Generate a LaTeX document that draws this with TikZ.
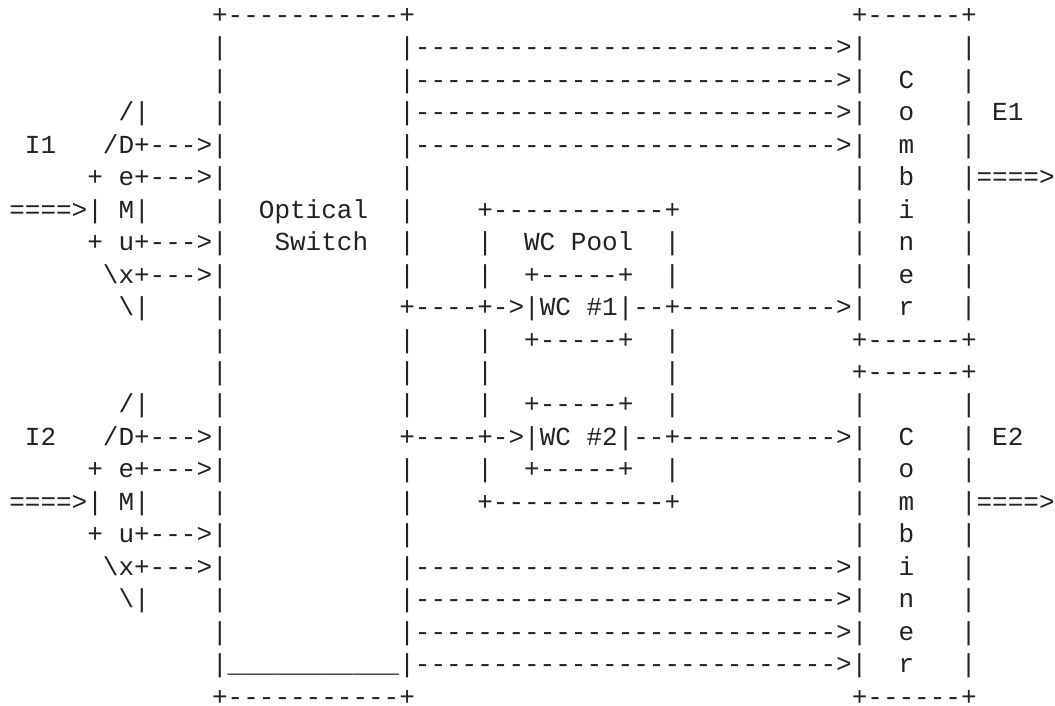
\documentclass[tikz,border=0pt]{standalone}
\usepackage{fontspec}
\setmonofont{Liberation Mono}
\definecolor{inkc}{HTML}{222222}
\tikzset{asciiline/.style={anchor=base west,inner sep=0pt,outer sep=0pt,text=inkc,font=\fontsize{26bp}{32bp}\selectfont\ttfamily}}
\newcommand{\rowline}[2]{\node[asciiline] (r#1) at (9.3,{-23.2-(#1-1)*32.48}) {#2};}
\begin{document}
\begin{tikzpicture}[x=1bp,y=1bp]
\useasboundingbox[fill=white] (0,0) rectangle (1055,-706);
\rowline{1}{~~~~~~~~~~~~~+-----------+~~~~~~~~~~~~~~~~~~~~~~~~~~~~+------+}
\rowline{2}{~~~~~~~~~~~~~|~~~~~~~~~~~|--------------------------->|~~~~~~|}
\rowline{3}{~~~~~~~~~~~~~|~~~~~~~~~~~|--------------------------->|~~C~~~|}
\rowline{4}{~~~~~~~/|~~~~|~~~~~~~~~~~|--------------------------->|~~o~~~|~E1}
\rowline{5}{~I1~~~/D+--->|~~~~~~~~~~~|--------------------------->|~~m~~~|}
\rowline{6}{~~~~~+~e+--->|~~~~~~~~~~~|~~~~~~~~~~~~~~~~~~~~~~~~~~~~|~~b~~~|====>}
\rowline{7}{====>|~M|~~~~|~~Optical~~|~~~~+-----------+~~~~~~~~~~~|~~i~~~|}
\rowline{8}{~~~~~+~u+--->|~~~Switch~~|~~~~|~~WC~Pool~~|~~~~~~~~~~~|~~n~~~|}
\rowline{9}{~~~~~~\textbackslash x+--->|~~~~~~~~~~~|~~~~|~~+-----+~~|~~~~~~~~~~~|~~e~~~|}
\rowline{10}{~~~~~~~\textbackslash|~~~~|~~~~~~~~~~~+----+->|WC~\#1|--+---------->|~~r~~~|}
\rowline{11}{~~~~~~~~~~~~~|~~~~~~~~~~~|~~~~|~~+-----+~~|~~~~~~~~~~~+------+}
\rowline{12}{~~~~~~~~~~~~~|~~~~~~~~~~~|~~~~|~~~~~~~~~~~|~~~~~~~~~~~+------+}
\rowline{13}{~~~~~~~/|~~~~|~~~~~~~~~~~|~~~~|~~+-----+~~|~~~~~~~~~~~|~~~~~~|}
\rowline{14}{~I2~~~/D+--->|~~~~~~~~~~~+----+->|WC~\#2|--+---------->|~~C~~~|~E2}
\rowline{15}{~~~~~+~e+--->|~~~~~~~~~~~|~~~~|~~+-----+~~|~~~~~~~~~~~|~~o~~~|}
\rowline{16}{====>|~M|~~~~|~~~~~~~~~~~|~~~~+-----------+~~~~~~~~~~~|~~m~~~|====>}
\rowline{17}{~~~~~+~u+--->|~~~~~~~~~~~|~~~~~~~~~~~~~~~~~~~~~~~~~~~~|~~b~~~|}
\rowline{18}{~~~~~~\textbackslash x+--->|~~~~~~~~~~~|--------------------------->|~~i~~~|}
\rowline{19}{~~~~~~~\textbackslash|~~~~|~~~~~~~~~~~|--------------------------->|~~n~~~|}
\rowline{20}{~~~~~~~~~~~~~|~~~~~~~~~~~|--------------------------->|~~e~~~|}
\rowline{21}{~~~~~~~~~~~~~|\_\_\_\_\_\_\_\_\_\_\_|--------------------------->|~~r~~~|}
\rowline{22}{~~~~~~~~~~~~~+-----------+~~~~~~~~~~~~~~~~~~~~~~~~~~~~+------+}
\end{tikzpicture}
\end{document}
